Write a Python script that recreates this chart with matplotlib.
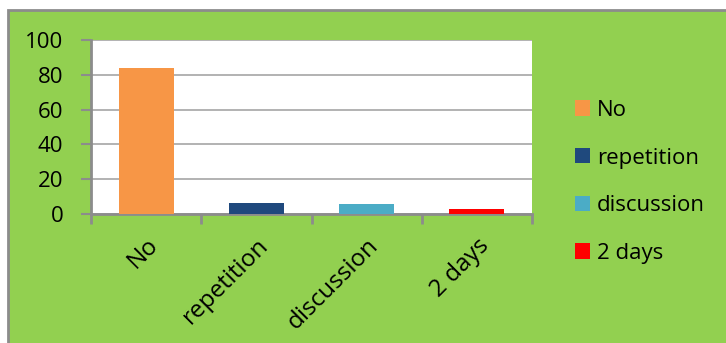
import matplotlib.pyplot as plt
from matplotlib.patches import Rectangle, Patch

categories = ["No", "repetition", "discussion", "2 days"]
values = [84, 6.3, 5.7, 3]
colors = ["#F79646", "#1F497D", "#4BACC6", "#FF0000"]
yticks = [0, 20, 40, 60, 80, 100]

W, H = 726, 343
fig = plt.figure(figsize=(W / 100, H / 100), dpi=100, facecolor="white")
plt.rcParams["font.family"] = ["Open Sans", "DejaVu Sans"]

# green chart area with gray border
fig.patches.append(Rectangle((8 / W, -0.01), 1.0, 1 - 10 / H + 0.01, transform=fig.transFigure,
                             facecolor="#92D050", edgecolor="#8C8C8C", linewidth=2, zorder=-1))

ax = fig.add_axes([91 / W, 1 - 214 / H, (532 - 91) / W, (214 - 40) / H])
ax.set_facecolor("white")
x = range(len(categories))
ax.bar(x, values, width=0.5, color=colors, zorder=3)

ax.set_xlim(-0.5, len(categories) - 0.5)
ax.set_ylim(0, 100)
ax.set_yticks(yticks)
ax.set_yticklabels([str(v) for v in yticks], fontsize=16)
ax.yaxis.grid(True, color="#A6A6A6", linewidth=1.2, zorder=0)
ax.set_xticks([i - 0.5 for i in range(len(categories) + 1)])
ax.set_xticklabels([])
ax.set_xticks(list(x), minor=True)
ax.set_xticklabels(categories, minor=True, rotation=45, ha="right", rotation_mode="anchor",
                   fontsize=17.5)
ax.tick_params(axis="x", which="minor", length=0, pad=14)
ax.tick_params(axis="x", which="major", length=7, width=2, color="#8C8C8C", direction="out")
ax.tick_params(axis="y", length=7, width=1.5, color="#8C8C8C", pad=13)
for s in ["top", "right"]:
    ax.spines[s].set_visible(False)
for s in ["left", "bottom"]:
    ax.spines[s].set_color("#8C8C8C")
    ax.spines[s].set_linewidth(2)

handles = [Patch(facecolor=c, edgecolor="none") for c in colors]
fig.legend(handles, categories, loc="upper left", bbox_to_anchor=(566 / W, 1 - 91 / H),
           frameon=False, fontsize=16, handlelength=0.68, handleheight=0.68,
           handletextpad=0.3, labelspacing=1.2, borderaxespad=0)

fig.savefig("out.png", dpi=100, facecolor=fig.get_facecolor())
